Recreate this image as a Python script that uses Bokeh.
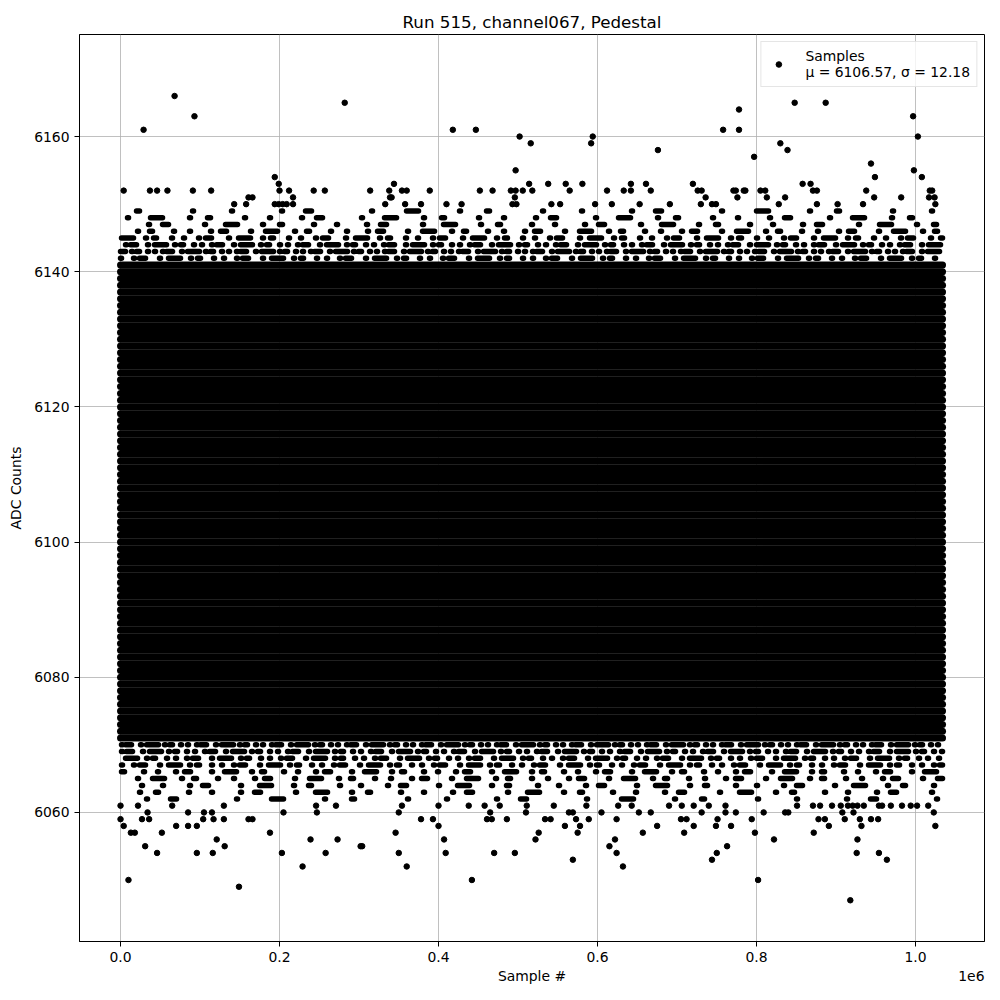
from bokeh.plotting import figure
from bokeh.models import (Range1d, FixedTicker, NumeralTickFormatter, Legend,
                          LegendItem, Label, ColumnDataSource)
from bokeh.embed import file_html
from bokeh.resources import INLINE

# ---------------- data ----------------
title_text = "Run 515, channel067, Pedestal"
x_label = "Sample #"
y_label = "ADC Counts"
x_ticks = [0.0, 0.2, 0.4, 0.6, 0.8, 1.0]          # units of 1e6 samples
y_ticks = [6060, 6080, 6100, 6120, 6140, 6160]
x_scale_text = "1e6"
series_name = "Samples"
mean_adc = 6106.57
sigma_adc = 12.18

first_sample_e6 = 0.0
last_sample_e6 = 1.034

# every integer code between these is hit densely over the whole run
core_low = 6071
core_high = 6141

# partly filled codes at the edges of the dense band and their filling fraction
fringe_levels = [6142, 6143, 6144, 6145, 6146, 6147, 6148, 6149,
                 6062, 6063, 6064, 6065, 6066, 6067, 6068, 6069, 6070]
fringe_fill = [0.68, 0.95, 0.80, 0.60, 0.45, 0.32, 0.30, 0.20,
               0.20, 0.33, 0.35, 0.45, 0.50, 0.70, 0.75, 0.85, 0.92]

# isolated samples (x in units of 1e6 samples, ADC counts)
outlier_x = [
    # far above
    0.029, 0.068, 0.093, 0.282, 0.194, 0.199,
    0.418, 0.447, 0.502, 0.516, 0.497, 0.592, 0.594, 0.676,
    0.778, 0.758, 0.778, 0.848, 0.887, 0.797, 0.830, 0.839, 0.997, 1.003,
    0.944, 0.949, 0.998, 1.008,
    # 6153
    0.344, 0.514, 0.538, 0.560, 0.581, 0.642, 0.661, 0.720, 0.858, 0.868,
    # 6152
    0.004, 0.037, 0.046, 0.059, 0.091, 0.114, 0.200, 0.212, 0.243, 0.257,
    0.314, 0.338, 0.354, 0.360, 0.389, 0.452, 0.468, 0.491, 0.497, 0.506,
    0.518, 0.565, 0.612, 0.633, 0.642, 0.667, 0.726, 0.731, 0.771, 0.774,
    0.784, 0.786, 0.805, 0.811, 0.871, 0.876, 0.938, 1.018, 1.021,
    # 6151
    0.161, 0.166, 0.217, 0.339, 0.341, 0.496, 0.736, 0.776, 0.813, 0.836,
    0.948, 0.982, 1.017, 1.024,
    # 6150
    0.143, 0.158, 0.194, 0.199, 0.204, 0.209, 0.217, 0.333, 0.358, 0.378,
    0.410, 0.429, 0.493, 0.498, 0.542, 0.553, 0.597, 0.618, 0.653, 0.691,
    0.730, 0.744, 0.749, 0.828, 0.876, 0.902, 0.934, 1.025,
    # 6061
    0.000, 0.022, 0.065, 0.130, 0.246, 0.271, 0.354, 0.400, 0.438, 0.458,
    0.477, 0.511, 0.545, 0.586, 0.626, 0.643, 0.690, 0.706, 0.721, 0.740,
    0.761, 0.851, 0.871, 0.880, 0.895, 0.906, 0.915, 0.921, 0.927, 0.935,
    0.954, 0.958, 0.969, 0.983, 0.994, 1.002, 1.016,
    # 6060
    0.034, 0.085, 0.105, 0.115, 0.205, 0.247, 0.350, 0.465, 0.510, 0.564,
    0.569, 0.605, 0.652, 0.667, 0.731, 0.761, 0.774, 0.809, 0.836, 0.840,
    0.908, 0.922, 1.023,
    # 6059
    0.000, 0.027, 0.036, 0.104, 0.117, 0.130, 0.161, 0.166, 0.378, 0.393,
    0.461, 0.467, 0.486, 0.534, 0.541, 0.573, 0.589, 0.624, 0.705, 0.712,
    0.751, 0.794, 0.878, 0.886, 0.911, 0.930, 0.944, 0.953,
    # 6058
    0.004, 0.070, 0.085, 0.096, 0.400, 0.559, 0.578, 0.675, 0.721, 0.749,
    0.768, 0.891, 0.932, 1.025,
    # 6057
    0.013, 0.018, 0.052, 0.188, 0.346, 0.526, 0.575, 0.657, 0.709, 0.798, 0.872,
    # 6056
    0.121, 0.239, 0.273, 0.407, 0.522, 0.622, 0.822, 0.927,
    # 6055
    0.031, 0.131, 0.302, 0.304, 0.615, 0.763,
    # 6054
    0.046, 0.096, 0.116, 0.203, 0.258, 0.350, 0.409, 0.470, 0.496, 0.624,
    0.750, 0.926, 0.954,
    # 6053, 6052, 6050, 6049, 6047
    0.569, 0.744, 0.964,
    0.229, 0.360, 0.632,
    0.010, 0.442, 0.802,
    0.149,
    0.918,
]
outlier_y = (
    [6161, 6166, 6163, 6165, 6154, 6153,
     6161, 6161, 6160, 6159, 6155, 6159, 6160, 6158,
     6164, 6161, 6161, 6165, 6165, 6157, 6159, 6158, 6163, 6160,
     6156, 6154, 6155, 6154]
    + [6153] * 10 + [6152] * 39 + [6151] * 14 + [6150] * 28
    + [6061] * 37 + [6060] * 23 + [6059] * 28 + [6058] * 14 + [6057] * 11
    + [6056] * 8 + [6055] * 6 + [6054] * 13 + [6053] * 3 + [6052] * 3
    + [6050] * 3 + [6049] + [6047]
)

# ---------------- figure ----------------
FONT = "DejaVu Sans"
DOT = 5.5

p = figure(width=991, height=997, output_backend="svg", toolbar_location=None,
           x_range=Range1d(-0.0516, 1.0868), y_range=Range1d(6040.9, 6175.1),
           min_border_left=79, min_border_right=7, min_border_top=34,
           min_border_bottom=56)
p.background_fill_color = "white"
p.border_fill_color = "white"
p.outline_line_color = "black"
p.outline_line_width = 1

p.title.text = title_text
p.title.text_font = FONT
p.title.text_font_size = "16.7px"
p.title.text_font_style = "normal"
p.title.text_color = "black"
p.title.align = "center"
p.title.standoff = 6

for ax in (p.xaxis[0], p.yaxis[0]):
    ax.axis_label_text_font = FONT
    ax.axis_label_text_font_size = "13.9px"
    ax.axis_label_text_font_style = "normal"
    ax.axis_label_text_color = "black"
    ax.major_label_text_font = FONT
    ax.major_label_text_font_size = "13.9px"
    ax.major_label_text_color = "black"
    ax.major_tick_out = 5
    ax.major_tick_in = 0
    ax.minor_tick_line_color = None
    ax.major_label_standoff = 5
    ax.axis_line_color = "black"
    ax.major_tick_line_color = "black"

p.xaxis[0].axis_label = x_label
p.yaxis[0].axis_label = y_label
p.xaxis[0].axis_label_standoff = 3
p.yaxis[0].axis_label_standoff = 7
p.xaxis[0].ticker = FixedTicker(ticks=x_ticks)
p.yaxis[0].ticker = FixedTicker(ticks=y_ticks)
p.xaxis[0].formatter = NumeralTickFormatter(format="0.0")
p.yaxis[0].formatter = NumeralTickFormatter(format="0")

p.grid.grid_line_color = "#b0b0b0"
p.grid.grid_line_width = 0.8

# dense core: every code hit continuously
core_levels = list(range(core_low, core_high + 1))
p.multi_line(xs=[[first_sample_e6, last_sample_e6] for _ in core_levels],
             ys=[[lv, lv] for lv in core_levels],
             line_color="black", line_width=7, line_cap="round")


def dash_for(frac, k):
    ons = [1, 1, 6, 1, 12, 1, 3, 1]
    wts = [1.3, 0.6, 1.6, 0.9, 1.1, 0.7, 1.4, 1.0]
    k = k % len(ons)
    ons = ons[k:] + ons[:k]
    wts = wts[k:] + wts[:k]
    rendered = sum(ons) + len(ons) * DOT
    period = rendered / frac
    off_total = period - sum(ons)
    offs = [max(1, round(off_total * w / sum(wts))) for w in wts]
    parts = []
    for a, b in zip(ons, offs):
        parts += [str(a), str(b)]
    return " ".join(parts)


for i, (lv, fr) in enumerate(zip(fringe_levels, fringe_fill)):
    p.line(x=[first_sample_e6, last_sample_e6], y=[lv, lv], line_color="black",
           line_width=DOT, line_cap="round", line_dash=dash_for(fr, i * 3),
           line_dash_offset=(i * 13) % 40)

src = ColumnDataSource(data=dict(x=outlier_x, y=outlier_y))
r_out = p.scatter("x", "y", source=src, size=DOT, color="black", marker="circle")

legend = Legend(items=[LegendItem(
    label=f"{series_name}\nμ = {mean_adc:.2f}, σ = {sigma_adc:.2f}",
    renderers=[r_out])])
legend.location = "top_right"
legend.label_text_font = FONT
legend.label_text_font_size = "13.9px"
legend.label_text_color = "black"
legend.border_line_color = "#cccccc"
legend.border_line_width = 1
legend.background_fill_alpha = 0.8
legend.margin = 7
legend.padding = 6
legend.glyph_width = 22
legend.glyph_height = 14
legend.label_standoff = 16
p.add_layout(legend)

# offset text of the x axis, kept in a side panel so that it is not clipped
p.add_layout(Label(x=905, y=21, x_units="screen", y_units="screen",
                   text=x_scale_text, text_align="right",
                   text_baseline="middle", text_font=FONT,
                   text_font_size="13.9px", text_color="black"), "below")

open("out.html", "w").write(file_html(p, INLINE))
